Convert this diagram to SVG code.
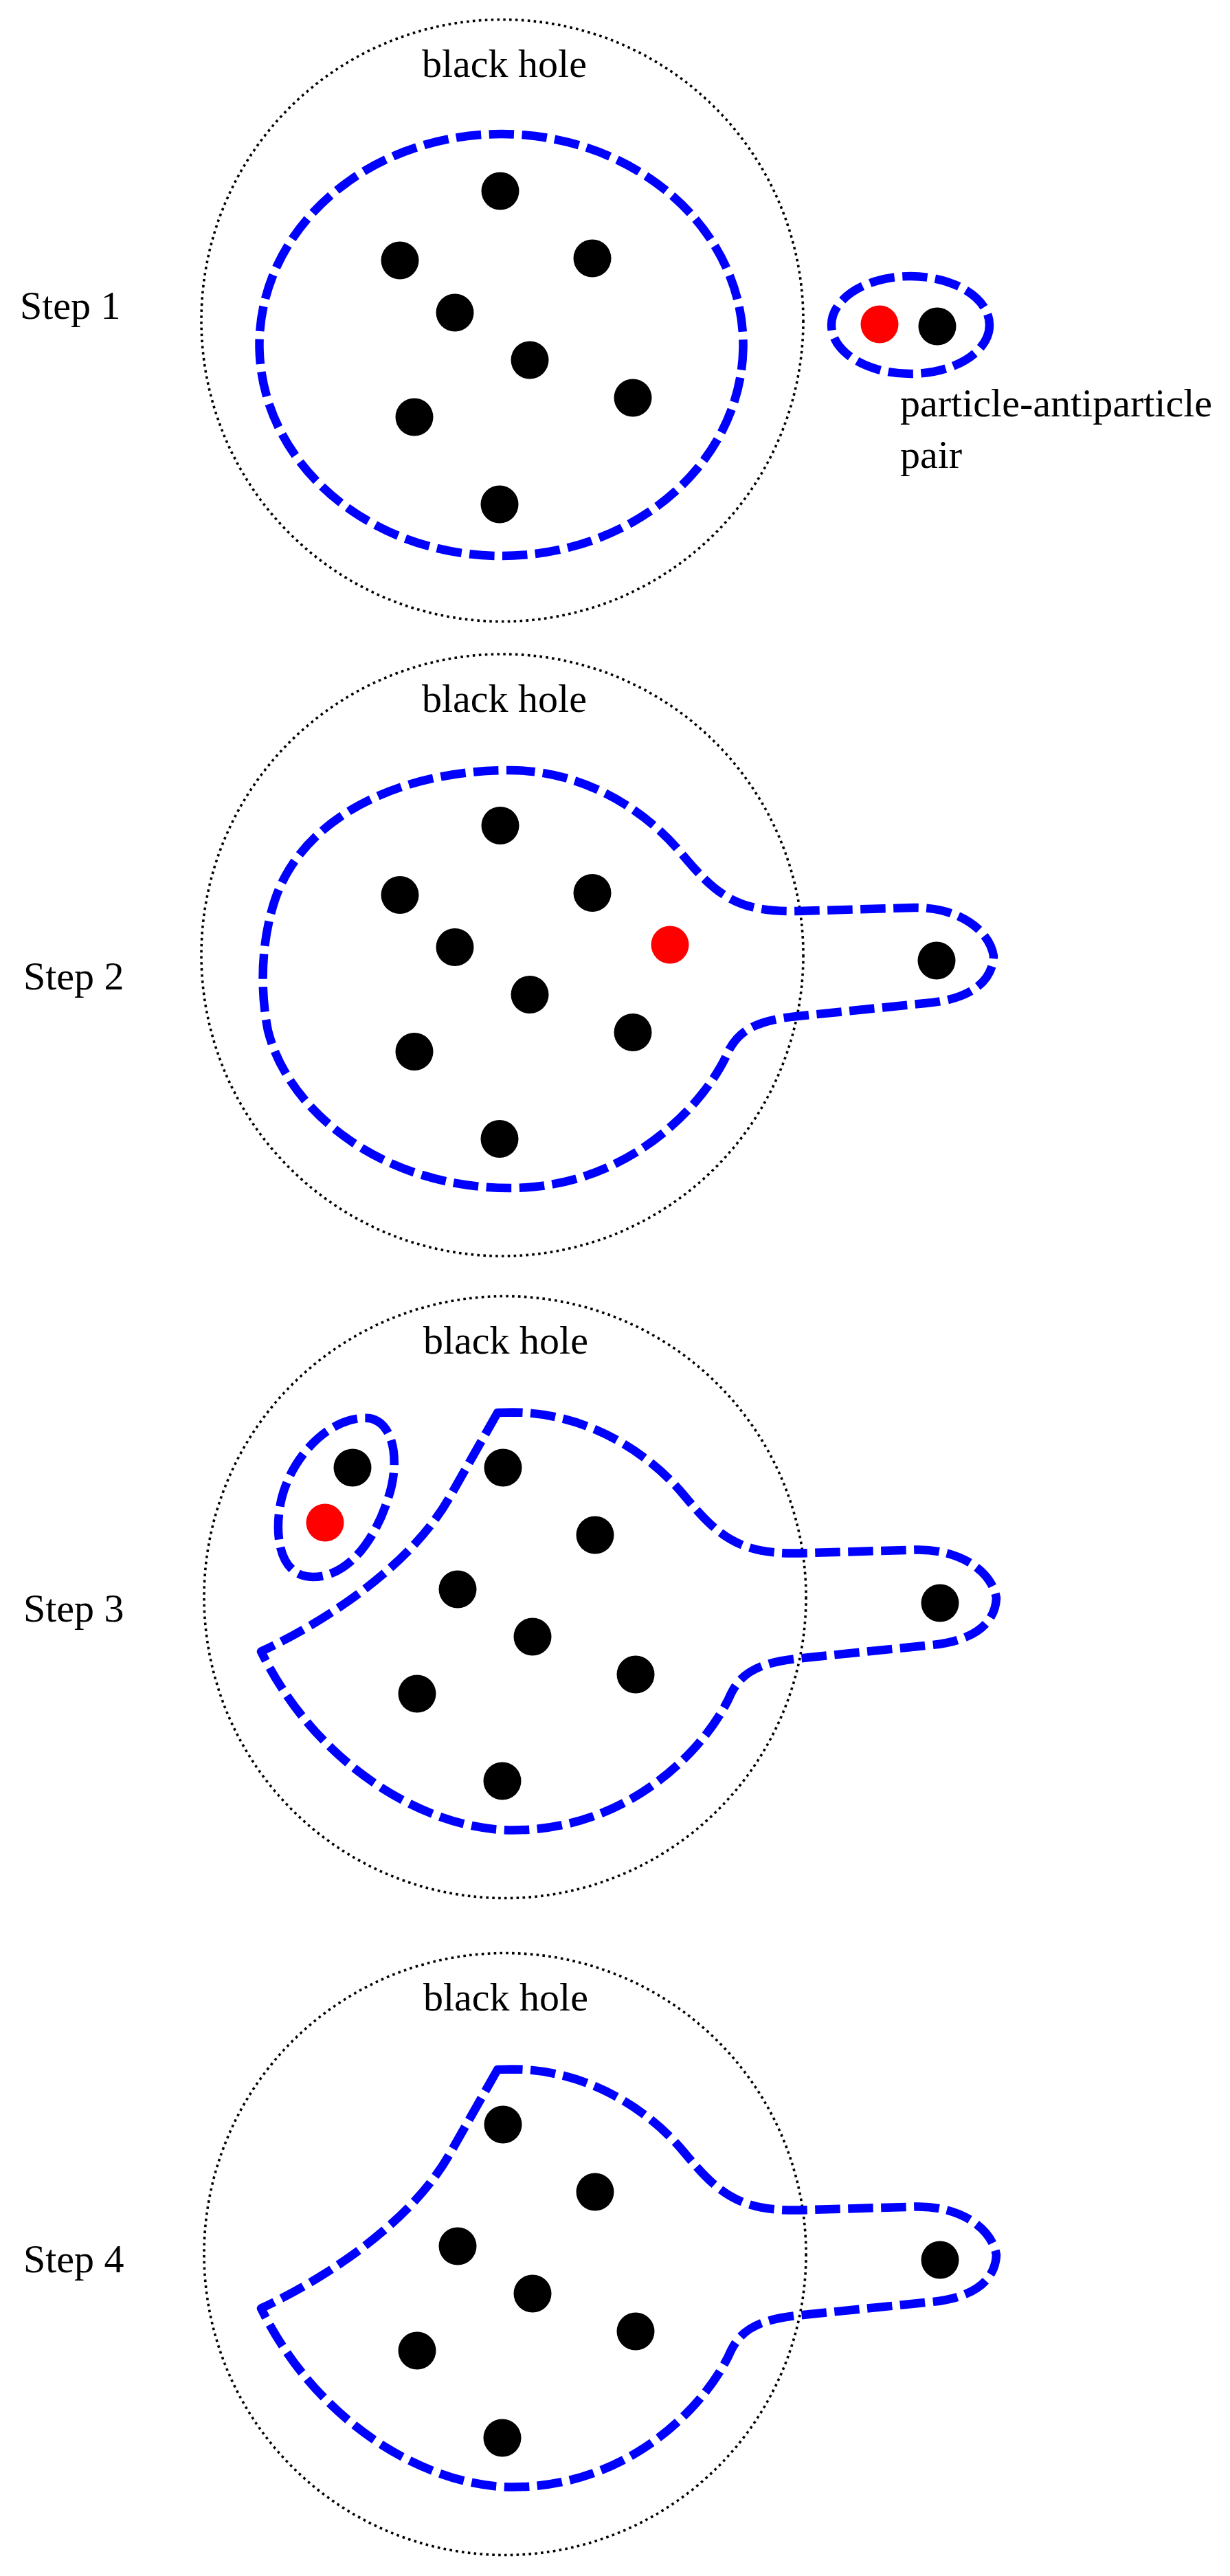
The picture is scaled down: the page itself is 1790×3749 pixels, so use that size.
<svg xmlns="http://www.w3.org/2000/svg" width="1790" height="3749" viewBox="0 0 1790 3749">
<defs>
<style>
.bh{fill:none;stroke:#000;stroke-width:3.6;stroke-dasharray:3.6 5.3}
.b{fill:none;stroke:#0000ff;stroke-width:12.5;stroke-dasharray:36.5 11.5;stroke-linejoin:round}
.t{font-family:"Liberation Serif","Times New Roman",serif;font-size:58px;fill:#000}
.k{fill:#000}
.r{fill:#ff0000}
</style>
</defs>
<rect width="1790" height="3749" fill="#fff"/>

<g id="step1">
  <circle class="bh" cx="731" cy="466.5" r="438"/>
  <text class="t" x="614" y="112">black hole</text>
  <text class="t" x="29" y="464">Step 1</text>
  <ellipse id="s1-region" class="b" cx="729.5" cy="502" rx="352" ry="307"/>
  <ellipse id="s1-pair" class="b" cx="1325" cy="473" rx="115" ry="71"/>
  <g class="k">
    <circle cx="728" cy="278" r="27.5"/>
    <circle cx="582" cy="379" r="27.5"/>
    <circle cx="862" cy="376" r="27.5"/>
    <circle cx="662" cy="455" r="27.5"/>
    <circle cx="771" cy="524" r="27.5"/>
    <circle cx="921" cy="579" r="27.5"/>
    <circle cx="603" cy="607" r="27.5"/>
    <circle cx="727" cy="734" r="27.5"/>
    <circle cx="1364" cy="475" r="27.5"/>
  </g>
  <circle class="r" cx="1280" cy="472" r="27.5"/>
  <text class="t" x="1310" y="606">particle-antiparticle</text>
  <text class="t" x="1310" y="681">pair</text>
</g>

<g id="step2" transform="translate(0,923.5)">
  <circle class="bh" cx="731" cy="466.5" r="438"/>
  <text class="t" x="614" y="112">black hole</text>
  <path class="b" d="M 742 197.5 C 850 197.5, 940 256.5, 990 316.5 C 1040 376.5, 1070 404.5, 1160 402.5 L 1330 397.5 C 1395 396.5, 1440 430, 1446 468 C 1444 506.5, 1410 531.5, 1347 536.5 L 1160 555.5 C 1100 561.5, 1075 576.5, 1060 606.5 C 1030 676.5, 920 805.5, 742 805.5 C 560 805.5, 420 696.5, 390 576.5 C 378 516.5, 380 446.5, 400 386.5 C 440 266.5, 580 197.5, 742 197.5 Z"/>
  <g class="k">
    <circle cx="728" cy="278" r="27.5"/>
    <circle cx="582" cy="379" r="27.5"/>
    <circle cx="862" cy="376" r="27.5"/>
    <circle cx="662" cy="455" r="27.5"/>
    <circle cx="771" cy="524" r="27.5"/>
    <circle cx="921" cy="579" r="27.5"/>
    <circle cx="603" cy="607" r="27.5"/>
    <circle cx="727" cy="734" r="27.5"/>
    <circle cx="1363" cy="474.5" r="27.5"/>
  </g>
  <circle class="r" cx="975" cy="451.5" r="27.5"/>
</g>
<text class="t" x="34" y="1440">Step 2</text>

<g id="step3" transform="translate(4,1858)">
  <circle class="bh" cx="731" cy="466.5" r="438"/>
  <text class="t" x="612" y="112">black hole</text>
  <path class="b" d="M 720 198 L 742 197.5 C 850 197.5, 940 256.5, 990 316.5 C 1040 376.5, 1070 404.5, 1160 402.5 L 1330 397.5 C 1395 396.5, 1440 430, 1446 468 C 1444 506.5, 1410 531.5, 1347 536.5 L 1160 555.5 C 1100 561.5, 1075 576.5, 1060 606.5 C 1030 676.5, 920 805.5, 742 805.5 C 620 805.5, 460 716.5, 376 545.5 C 460 506.5, 590 426.5, 650 321.5 Z"/>
  <path class="b" d="M 533 206 C 571 212, 578 272, 561 322 C 544 377, 506 437, 451 437 C 401 437, 394 372, 406 322 C 421 262, 476 202, 533 206 Z"/>
  <g class="k">
    <circle cx="728" cy="278" r="27.5"/>
    <circle cx="862" cy="376" r="27.5"/>
    <circle cx="662" cy="455" r="27.5"/>
    <circle cx="771" cy="524" r="27.5"/>
    <circle cx="921" cy="579" r="27.5"/>
    <circle cx="603" cy="607" r="27.5"/>
    <circle cx="727" cy="734" r="27.5"/>
    <circle cx="509" cy="278" r="27.5"/>
    <circle cx="1364" cy="475" r="27.5"/>
  </g>
  <circle class="r" cx="469" cy="358" r="27.5"/>
</g>
<text class="t" x="34" y="2360">Step 3</text>

<g id="step4" transform="translate(4,2814)">
  <circle class="bh" cx="731" cy="466.5" r="438"/>
  <text class="t" x="612" y="112">black hole</text>
  <path class="b" d="M 720 198 L 742 197.5 C 850 197.5, 940 256.5, 990 316.5 C 1040 376.5, 1070 404.5, 1160 402.5 L 1330 397.5 C 1395 396.5, 1440 430, 1446 468 C 1444 506.5, 1410 531.5, 1347 536.5 L 1160 555.5 C 1100 561.5, 1075 576.5, 1060 606.5 C 1030 676.5, 920 805.5, 742 805.5 C 620 805.5, 460 716.5, 376 545.5 C 460 506.5, 590 426.5, 650 321.5 Z"/>
  <g class="k">
    <circle cx="728" cy="278" r="27.5"/>
    <circle cx="862" cy="376" r="27.5"/>
    <circle cx="662" cy="455" r="27.5"/>
    <circle cx="771" cy="524" r="27.5"/>
    <circle cx="921" cy="579" r="27.5"/>
    <circle cx="603" cy="607" r="27.5"/>
    <circle cx="727" cy="734" r="27.5"/>
    <circle cx="1364" cy="475" r="27.5"/>
  </g>
</g>
<text class="t" x="34" y="3307">Step 4</text>
</svg>
